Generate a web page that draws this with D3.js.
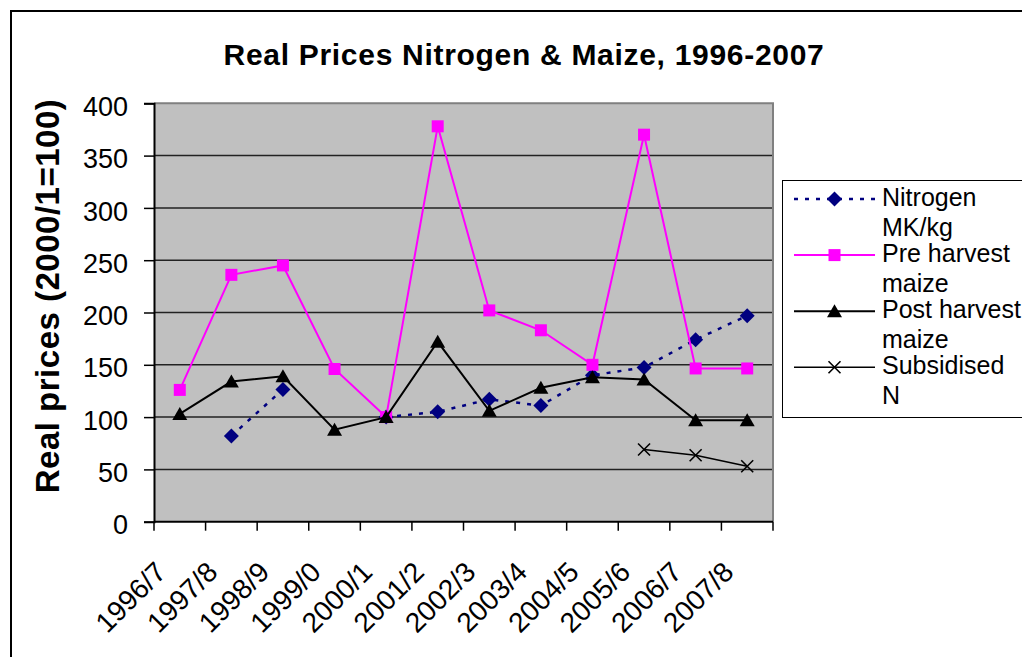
<!DOCTYPE html>
<html>
<head>
<meta charset="utf-8">
<script src="https://cdn.jsdelivr.net/npm/d3@7"></script>
<style>
  body { margin: 0; background: #fff; }
  svg { display: block; font-family: Arial, "Liberation Sans", sans-serif; }
</style>
</head>
<body>
<div id="chart"></div>
<script>
// data
const categories = ["1996/7", "1997/8", "1998/9", "1999/0", "2000/1", "2001/2",
  "2002/3", "2003/4", "2004/5", "2005/6", "2006/7", "2007/8"];
const nitrogen    = [null, 82, 126.5, null, 100, 105, 117, 111, 140, 147.5, 174, 197];
const preHarvest  = [126, 236, 245, 146, 100, 378, 202, 183, 150, 370, 146.5, 146.5];
const postHarvest = [103, 134, 139, 88, 100, 172, 106, 128, 138, 136, 97, 97];
const subsidised  = [null, null, null, null, null, null, null, null, null, 69, 63.5, 53];
const yTicks = [0, 50, 100, 150, 200, 250, 300, 350, 400];
const legendLabels = [["Nitrogen", "MK/kg"], ["Pre harvest", "maize"],
  ["Post harvest", "maize"], ["Subsidised", "N"]];

const W = 1022, H = 657;
const plot = {left: 154, right: 773, top: 103.3, bottom: 521.7};

let svg = d3.select("#chart").append("svg")
  .attr("width", W)
  .attr("height", H);

// outer chart frame (runs off the picture right & bottom)
svg.append("rect")
  .attr("x", 11).attr("y", 11)
  .attr("width", 1100).attr("height", 700)
  .attr("fill", "none")
  .attr("stroke", "#000")
  .attr("stroke-width", 2);

let x = d3.scaleBand().domain(categories).range([plot.left, plot.right]);
let y = d3.scaleLinear().domain([0, 400]).range([plot.bottom, plot.top]);
let cx = d => x(d) + x.bandwidth() / 2;

// plot area
svg.append("rect")
  .attr("x", plot.left).attr("y", plot.top)
  .attr("width", plot.right - plot.left)
  .attr("height", plot.bottom - plot.top)
  .attr("fill", "#c0c0c0");

// gridlines
svg.append("g").selectAll("line")
  .data(yTicks.filter(t => t > 0 && t < 400))
  .join("line")
  .attr("x1", plot.left).attr("x2", plot.right)
  .attr("y1", d => y(d)).attr("y2", d => y(d))
  .attr("stroke", "#222")
  .attr("stroke-width", 1.5);

// grey border top/right
svg.append("path")
  .attr("d", `M${plot.left},${plot.top}H${plot.right}V${plot.bottom}`)
  .attr("fill", "none")
  .attr("stroke", "#808080")
  .attr("stroke-width", 2);

// y axis
let yAxis = svg.append("g")
  .attr("transform", `translate(${plot.left},0)`)
  .call(d3.axisLeft(y).tickValues(yTicks).tickSize(10).tickPadding(16).tickFormat(d3.format("d")));
yAxis.select(".domain").attr("stroke", "#000").attr("stroke-width", 2);
yAxis.selectAll(".tick line").attr("stroke", "#000").attr("stroke-width", 1.5);
yAxis.selectAll("text")
  .attr("dy", "0.45em")
  .attr("font-size", 27)
  .attr("font-family", "Arial, 'Liberation Sans', sans-serif")
  .attr("fill", "#000");

// x axis (ticks on category boundaries)
let xAxis = svg.append("g");
xAxis.append("line")
  .attr("x1", plot.left).attr("x2", plot.right)
  .attr("y1", plot.bottom).attr("y2", plot.bottom)
  .attr("stroke", "#000").attr("stroke-width", 2);
xAxis.selectAll(".xtick")
  .data(categories.map(d => x(d)).concat([x.range()[1]]))
  .join("line")
  .attr("class", "xtick")
  .attr("x1", d => d).attr("x2", d => d)
  .attr("y1", plot.bottom).attr("y2", plot.bottom + 9)
  .attr("stroke", "#000").attr("stroke-width", 1.5);
xAxis.selectAll(".xlabel")
  .data(categories)
  .join("text")
  .attr("class", "xlabel")
  .attr("transform", d => `translate(${cx(d) - 12},${plot.bottom + 52}) rotate(-45)`)
  .attr("text-anchor", "end")
  .attr("font-size", 28)
  .text(d => d);

// marker shapes
const markers = {
  diamond: "M0,-7.5L7.5,0L0,7.5L-7.5,0Z",
  square: "M-6,-6H6V6H-6Z",
  triangle: "M0,-7L7.5,6L-7.5,6Z",
  cross: "M-6,-6L6,6M6,-6L-6,6"
};

const series = [
  {values: nitrogen, color: "#000080", width: 2.5, dash: "4,7", marker: "diamond", fill: true},
  {values: preHarvest, color: "#ff00ff", width: 2, dash: null, marker: "square", fill: true},
  {values: postHarvest, color: "#000000", width: 2, dash: null, marker: "triangle", fill: true},
  {values: subsidised, color: "#000000", width: 1.6, dash: null, marker: "cross", fill: false}
];

let line = d3.line()
  .defined(d => d.v != null)
  .x(d => cx(d.c))
  .y(d => y(d.v));

series.forEach(s => {
  let pts = categories.map((c, i) => ({c: c, v: s.values[i]}));
  svg.append("path")
    .datum(pts)
    .attr("d", line)
    .attr("fill", "none")
    .attr("stroke", s.color)
    .attr("stroke-width", s.width)
    .attr("stroke-dasharray", s.dash);
  svg.append("g").selectAll("path")
    .data(pts.filter(d => d.v != null))
    .join("path")
    .attr("transform", d => `translate(${cx(d.c)},${y(d.v)})`)
    .attr("d", markers[s.marker])
    .attr("fill", s.fill ? s.color : "none")
    .attr("stroke", s.color)
    .attr("stroke-width", s.fill ? 0 : 1.6);
});

// title
svg.append("text")
  .attr("x", 524).attr("y", 65)
  .attr("text-anchor", "middle")
  .attr("font-size", 30)
  .attr("font-weight", "bold")
  .attr("letter-spacing", 0.7)
  .text("Real Prices Nitrogen & Maize, 1996-2007");

// y axis title
svg.append("text")
  .attr("transform", "translate(59,296) rotate(-90)")
  .attr("text-anchor", "middle")
  .attr("font-size", 33)
  .attr("font-weight", "bold")
  .attr("letter-spacing", 0.5)
  .text("Real prices (2000/1=100)");

// legend
let legend = svg.append("g");
legend.append("rect")
  .attr("x", 782.5).attr("y", 180.5)
  .attr("width", 300).attr("height", 237)
  .attr("fill", "#fff")
  .attr("stroke", "#000")
  .attr("stroke-width", 1);

series.forEach((s, i) => {
  let ly = 199 + i * 56.1;
  let g = legend.append("g");
  g.append("line")
    .attr("x1", 794).attr("x2", 875)
    .attr("y1", ly).attr("y2", ly)
    .attr("stroke", s.color)
    .attr("stroke-width", s.width)
    .attr("stroke-dasharray", s.dash);
  g.append("path")
    .attr("transform", `translate(834.5,${ly})`)
    .attr("d", markers[s.marker])
    .attr("fill", s.fill ? s.color : "none")
    .attr("stroke", s.color)
    .attr("stroke-width", s.fill ? 0 : 1.6);
  legendLabels[i].forEach((t, j) => {
    g.append("text")
      .attr("x", 882)
      .attr("y", ly + 6.5 + j * 30.5)
      .attr("font-size", 25)
      .text(t);
  });
});
</script>
</body>
</html>
